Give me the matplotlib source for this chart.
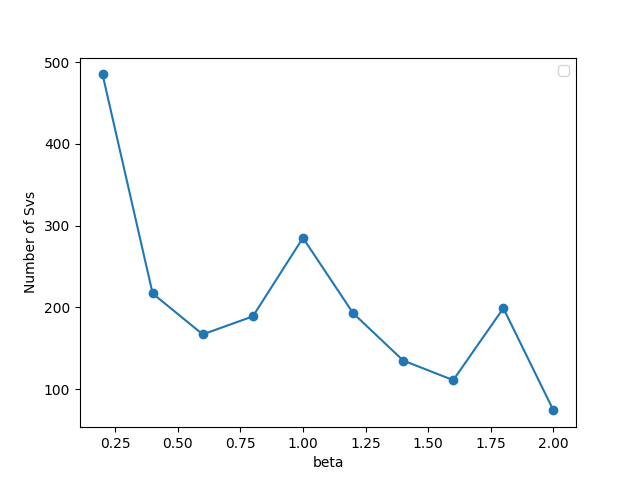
import matplotlib
matplotlib.use('Agg')
from matplotlib import pyplot as plt

# valores
beta = [0.2, 0.4, 0.6, 0.8, 1.0, 1.2, 1.4, 1.6, 1.8, 2.0]
num_svs = [485, 217, 167, 189, 285, 193, 135, 111, 199, 74]

plt.figure(figsize=(6.4, 4.8), dpi=100)
plt.plot(beta, num_svs, marker='o')
plt.xlabel('beta')
plt.ylabel('Number of Svs')
plt.legend()
plt.savefig('out.png')
